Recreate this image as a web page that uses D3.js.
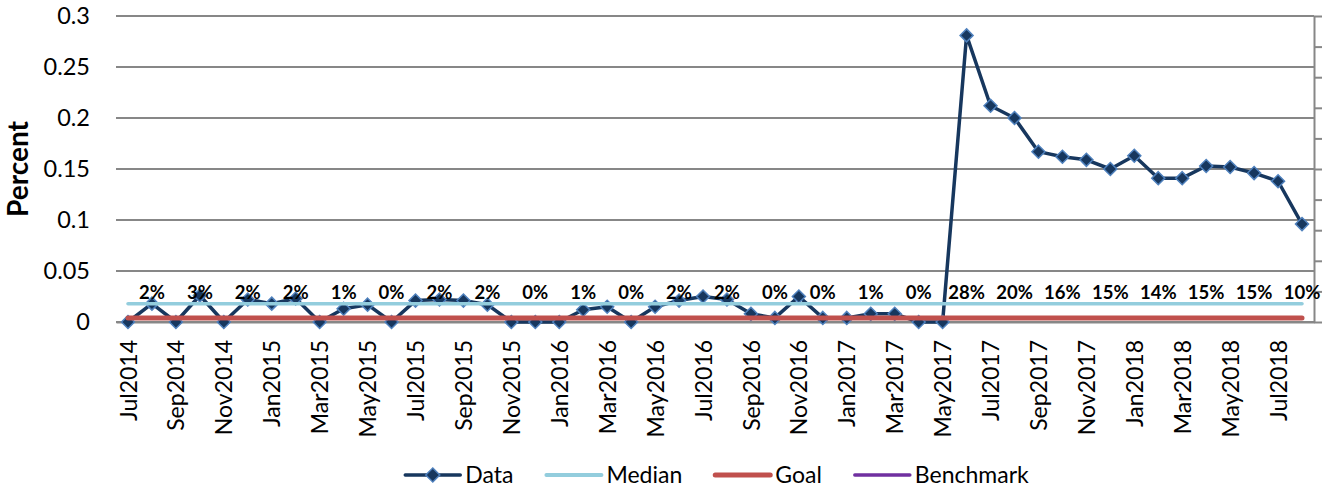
<!DOCTYPE html>
<html>
<head>
<meta charset="utf-8">
<script src="https://cdn.jsdelivr.net/npm/d3@7"></script>
<style>
  html, body { margin: 0; padding: 0; background: #fff; }
  svg { display: block; font-family: Lato, "Open Sans", sans-serif; }
</style>
</head>
<body>
<svg id="chart" width="1330" height="489"></svg>
<script>
// Monthly categories, Jul 2014 – Aug 2018
const categories = [
  "Jul2014","Aug2014","Sep2014","Oct2014","Nov2014","Dec2014",
  "Jan2015","Feb2015","Mar2015","Apr2015","May2015","Jun2015",
  "Jul2015","Aug2015","Sep2015","Oct2015","Nov2015","Dec2015",
  "Jan2016","Feb2016","Mar2016","Apr2016","May2016","Jun2016",
  "Jul2016","Aug2016","Sep2016","Oct2016","Nov2016","Dec2016",
  "Jan2017","Feb2017","Mar2017","Apr2017","May2017","Jun2017",
  "Jul2017","Aug2017","Sep2017","Oct2017","Nov2017","Dec2017",
  "Jan2018","Feb2018","Mar2018","Apr2018","May2018","Jun2018",
  "Jul2018","Aug2018"
];

// Observed rate per month
const dataValues = [
  0, 0.018, 0, 0.026, 0, 0.022,
  0.018, 0.023, 0, 0.013, 0.017, 0,
  0.021, 0.022, 0.021, 0.017, 0, 0,
  0, 0.012, 0.015, 0, 0.015, 0.021,
  0.025, 0.022, 0.008, 0.004, 0.025, 0.004,
  0.004, 0.008, 0.008, 0, 0, 0.281,
  0.212, 0.200, 0.167, 0.162, 0.159, 0.150,
  0.163, 0.141, 0.141, 0.153, 0.152, 0.146,
  0.138, 0.096
];

// Reference levels (constant across the period)
const medianValue = 0.018;
const goalValue = 0.004;
const benchmarkValues = [];

// Axis ticks
const yTickValues = [0, 0.05, 0.1, 0.15, 0.2, 0.25, 0.3];
const yTickLabels = ["0", "0.05", "0.1", "0.15", "0.2", "0.25", "0.3"];
const y2TickValues = [0, 0.1, 0.2, 0.3, 0.4, 0.5, 0.6, 0.7, 0.8, 0.9, 1];

const legendItems = [
  { name: "Data", color: "#17375E", marker: true, width: 3.5 },
  { name: "Median", color: "#93CDDD", marker: false, width: 4 },
  { name: "Goal", color: "#C0504D", marker: false, width: 5 },
  { name: "Benchmark", color: "#7030A0", marker: false, width: 3.5 }
];

const svg = d3.select("#chart");
const plot = { left: 116, right: 1314, top: 16, bottom: 322 };

const x = d3.scalePoint().domain(categories).range([plot.left, plot.right]).padding(0.5);
const y = d3.scaleLinear().domain([0, 0.3]).range([plot.bottom, plot.top]);
const y2 = d3.scaleLinear().domain([0, 1]).range([plot.bottom, plot.top]);

const gridColor = "#878787";
const gridWidth = 2;

// Horizontal gridlines
svg.append("g")
  .selectAll("line")
  .data(yTickValues)
  .join("line")
  .attr("x1", plot.left)
  .attr("x2", plot.right)
  .attr("y1", d => y(d))
  .attr("y2", d => y(d))
  .attr("stroke", gridColor)
  .attr("stroke-width", gridWidth);

// Left value axis (labels only)
const yAxis = svg.append("g")
  .attr("transform", `translate(${plot.left},0)`)
  .call(d3.axisLeft(y).tickValues(yTickValues)
    .tickFormat((d, i) => yTickLabels[i]).tickSize(0).tickPadding(26));
yAxis.select(".domain").remove();
yAxis.selectAll("text")
  .attr("font-family", "Lato, sans-serif")
  .attr("font-size", 23.5)
  .attr("fill", "#000");

// Right secondary axis (ticks only)
const y2Axis = svg.append("g")
  .attr("transform", `translate(${plot.right},0)`)
  .call(d3.axisRight(y2).tickValues(y2TickValues).tickFormat("").tickSize(8).tickSizeOuter(0));
y2Axis.select(".domain").attr("stroke", gridColor).attr("stroke-width", gridWidth);
y2Axis.selectAll(".tick line").attr("stroke", gridColor).attr("stroke-width", gridWidth);

// Category axis
const xAxis = svg.append("g")
  .attr("transform", `translate(0,${plot.bottom})`)
  .call(d3.axisBottom(x).tickValues(categories.filter((d, i) => i % 2 === 0))
    .tickSize(0).tickSizeOuter(0).tickPadding(0));
xAxis.select(".domain").attr("stroke", gridColor).attr("stroke-width", gridWidth);
xAxis.selectAll("text")
  .attr("font-family", "Lato, sans-serif")
  .attr("font-size", 23)
  .attr("fill", "#000")
  .attr("text-anchor", "end")
  .attr("transform", "translate(0,18) rotate(-90)")
  .attr("x", 0)
  .attr("y", 0)
  .attr("dy", "0.35em");

// Y axis title
svg.append("text")
  .attr("transform", "translate(28,169) rotate(-90)")
  .attr("text-anchor", "middle")
  .attr("font-family", "Lato, sans-serif")
  .attr("font-weight", "bold")
  .attr("font-size", 28)
  .attr("fill", "#000")
  .text("Percent");

const diamond = r => `M0,${-r}L${r},0L0,${r}L${-r},0Z`;

// Data series
const line = d3.line().x((d, i) => x(categories[i])).y(d => y(d));
svg.append("path")
  .datum(dataValues)
  .attr("d", line)
  .attr("fill", "none")
  .attr("stroke", "#17375E")
  .attr("stroke-width", 3.5)
  .attr("stroke-linejoin", "round");

svg.append("g")
  .selectAll("path")
  .data(dataValues)
  .join("path")
  .attr("transform", (d, i) => `translate(${x(categories[i])},${y(d)})`)
  .attr("d", diamond(6.5))
  .attr("fill", "#17375E")
  .attr("stroke", "#4F81BD")
  .attr("stroke-width", 1.5);

// Median and goal reference lines
const refLine = (value, color, width) => svg.append("line")
  .attr("x1", x(categories[0]))
  .attr("x2", x(categories[categories.length - 1]))
  .attr("y1", y(value))
  .attr("y2", y(value))
  .attr("stroke", color)
  .attr("stroke-width", width)
  .attr("stroke-linecap", "round");

refLine(medianValue, "#93CDDD", 3.5);
refLine(goalValue, "#C0504D", 5);

// Percentage labels on alternate months
const pct = d3.format(".0%");
svg.append("g")
  .selectAll("text")
  .data(dataValues.map((v, i) => ({ v, i })).filter(d => d.i % 2 === 1))
  .join("text")
  .attr("x", d => x(categories[d.i]))
  .attr("y", 298.5)
  .attr("text-anchor", "middle")
  .attr("font-family", "Lato, sans-serif")
  .attr("font-weight", "bold")
  .attr("font-size", 18.5)
  .attr("fill", "#000")
  .text(d => pct(d.v));

// Legend
const legend = svg.append("g");
const legendY = 475;
const symW = 55, symGap = 5, itemGap = 33;
let cx = 0;
legendItems.forEach(item => {
  const g = legend.append("g").attr("transform", `translate(${cx},0)`);
  g.append("line")
    .attr("x1", 0).attr("x2", symW)
    .attr("y1", legendY).attr("y2", legendY)
    .attr("stroke", item.color)
    .attr("stroke-width", item.width)
    .attr("stroke-linecap", "round");
  if (item.marker) {
    g.append("path")
      .attr("transform", `translate(${symW / 2},${legendY})`)
      .attr("d", diamond(7))
      .attr("fill", "#17375E")
      .attr("stroke", "#4F81BD")
      .attr("stroke-width", 1.5);
  }
  const t = g.append("text")
    .attr("x", symW + symGap)
    .attr("y", legendY)
    .attr("dy", "0.35em")
    .attr("font-family", "Lato, sans-serif")
    .attr("font-size", 23)
    .attr("fill", "#000")
    .text(item.name);
  cx += symW + symGap + t.node().getComputedTextLength() + itemGap;
});
const legendWidth = cx - itemGap;
legend.attr("transform", `translate(${717 - legendWidth / 2},0)`);
</script>
</body>
</html>
